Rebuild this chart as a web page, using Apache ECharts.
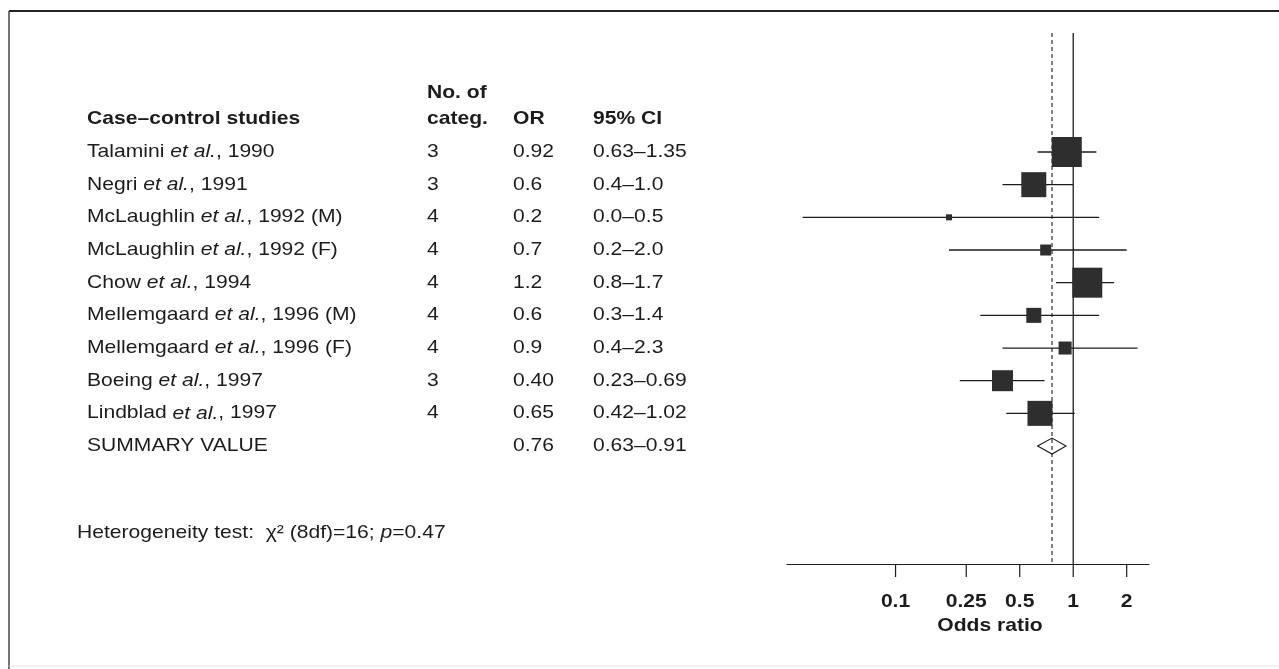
<!DOCTYPE html>
<html>
<head>
<meta charset="utf-8">
<script src="https://cdn.jsdelivr.net/npm/echarts@6/dist/echarts.min.js"></script>
<style>
  html, body { margin: 0; padding: 0; background: #ffffff; }
  #chart { width: 1279px; height: 669px; }
</style>
</head>
<body>
<div id="chart"></div>
<script>
// ---- Data: case–control studies of the pooled odds ratio ----
const authors = ['Talamini', 'Negri', 'McLaughlin', 'McLaughlin', 'Chow', 'Mellemgaard', 'Mellemgaard', 'Boeing', 'Lindblad'];
const years = ['1990', '1991', '1992 (M)', '1992 (F)', '1994', '1996 (M)', '1996 (F)', '1997', '1997'];
const categoryCounts = ['3', '3', '4', '4', '4', '4', '4', '3', '4'];
const orLabels = ['0.92', '0.6', '0.2', '0.7', '1.2', '0.6', '0.9', '0.40', '0.65'];
const ciLabels = ['0.63\u20131.35', '0.4\u20131.0', '0.0\u20130.5', '0.2\u20132.0', '0.8\u20131.7', '0.3\u20131.4', '0.4\u20132.3', '0.23\u20130.69', '0.42\u20131.02'];
const oddsRatios = [0.92, 0.6, 0.2, 0.7, 1.2, 0.6, 0.9, 0.40, 0.65];
const ciLower = [0.63, 0.4, 0.03, 0.2, 0.8, 0.3, 0.4, 0.23, 0.42];
const ciUpper = [1.35, 1.0, 1.4, 2.0, 1.7, 1.4, 2.3, 0.69, 1.02];
const studyWeights = [22.3, 15.5, 0.9, 3.0, 22.3, 5.6, 4.2, 10.9, 15.5]; // % weight, box area ∝ weight

const summaryName = 'SUMMARY VALUE';
const summaryOR = 0.76;
const summaryLower = 0.63;
const summaryUpper = 0.91;
const summaryORLabel = '0.76';
const summaryCILabel = '0.63\u20130.91';

const referenceOR = 1;
const tickValues = [0.1, 0.25, 0.5, 1, 2];
const tickLabels = ['0.1', '0.25', '0.5', '1', '2'];
const axisTitle = 'Odds ratio';
const headers = { study: 'Case\u2013control studies', categ1: 'No. of', categ2: 'categ.', or: 'OR', ci: '95% CI' };
const heterogeneityNote = 'Heterogeneity test:  \u03c7\u00b2 (8df)=16; {i|p}=0.47';

// ---- Layout and styles ----
const FONT = "'Liberation Sans', Arial, Helvetica, sans-serif";
const FS = 18.5;
const SX = 1.14;           // horizontal stretch of the printed typeface
const INK = '#1c1c1c';
const BOX = '#2e2e2e';
const Y_MIN = -3.643, Y_MAX = 12.611;   // row units: study i sits at y = i
const PLOT = { left: 787, top: 33, width: 362, height: 531 };
const X_MIN = 0.0245, X_MAX = 2.67;
const COL = { name: 87, categ: 427, or: 513, ci: 593 };
const MAX_BOX = 30;
const maxWeight = Math.max(...studyWeights);
const summaryRow = authors.length;

// ---- Table cells (left panel) ----
const tableCells = [];
function cell(x, row, text, bold) { tableCells.push({ x, row, text, bold }); }
cell(COL.name, -1, headers.study, true);
cell(COL.categ, -1.8, headers.categ1, true);
cell(COL.categ, -1, headers.categ2, true);
cell(COL.or, -1, headers.or, true);
cell(COL.ci, -1, headers.ci, true);
authors.forEach((a, i) => {
  cell(COL.name, i, a + ' {i|et al.}, ' + years[i], false);
  cell(COL.categ, i, categoryCounts[i], false);
  cell(COL.or, i, orLabels[i], false);
  cell(COL.ci, i, ciLabels[i], false);
});
cell(COL.name, summaryRow, summaryName, false);
cell(COL.or, summaryRow, summaryORLabel, false);
cell(COL.ci, summaryRow, summaryCILabel, false);

const richItalic = { i: { fontFamily: FONT, fontSize: FS, fontStyle: 'italic', fill: INK, color: INK } };

const chart = echarts.init(document.getElementById('chart'), null, { renderer: 'canvas' });

const option = {
  backgroundColor: '#ffffff',
  animation: false,
  grid: [
    { left: PLOT.left, top: PLOT.top, width: PLOT.width, height: PLOT.height },
    { left: 0, top: PLOT.top, width: 780, height: PLOT.height }
  ],
  xAxis: [
    {
      gridIndex: 0, type: 'log', logBase: 10, min: X_MIN, max: X_MAX,
      axisLine: { show: true, onZero: false, lineStyle: { color: INK, width: 1.2 } },
      axisTick: { show: false }, axisLabel: { show: false }, splitLine: { show: false }, minorTick: { show: false }
    },
    { gridIndex: 1, type: 'value', min: 0, max: 780, show: false }
  ],
  yAxis: [
    { gridIndex: 0, type: 'value', inverse: true, min: Y_MIN, max: Y_MAX, show: false },
    { gridIndex: 1, type: 'value', inverse: true, min: Y_MIN, max: Y_MAX, show: false }
  ],
  series: [
    // vertical reference lines: no effect (solid) and pooled estimate (dashed)
    {
      type: 'custom', xAxisIndex: 0, yAxisIndex: 0, z: 1, silent: true,
      data: [[referenceOR, 0], [summaryOR, 1]],
      renderItem(params, api) {
        const v = api.value(0);
        const a = api.coord([v, Y_MIN]);
        const b = api.coord([v, Y_MAX]);
        const dashed = api.value(1) === 1;
        return {
          type: 'line',
          shape: { x1: a[0], y1: a[1], x2: b[0], y2: b[1] },
          style: { stroke: INK, lineWidth: dashed ? 1.1 : 1.3, lineDash: dashed ? [4, 3] : null }
        };
      }
    },
    // study estimates with confidence intervals
    {
      type: 'custom', xAxisIndex: 0, yAxisIndex: 0, z: 3, silent: true,
      data: oddsRatios.map((v, i) => [v, i, ciLower[i], ciUpper[i], studyWeights[i]]),
      encode: { x: [0, 2, 3], y: 1 },
      renderItem(params, api) {
        const row = api.value(1);
        const c = api.coord([api.value(0), row]);
        const lo = api.coord([api.value(2), row]);
        const hi = api.coord([api.value(3), row]);
        const side = MAX_BOX * Math.sqrt(api.value(4) / maxWeight);
        return {
          type: 'group',
          children: [
            { type: 'line', shape: { x1: lo[0], y1: lo[1], x2: hi[0], y2: hi[1] }, style: { stroke: INK, lineWidth: 1.3 } },
            { type: 'rect', shape: { x: c[0] - side / 2, y: c[1] - side / 2, width: side, height: side }, style: { fill: BOX } }
          ]
        };
      }
    },
    // pooled summary diamond
    {
      type: 'custom', xAxisIndex: 0, yAxisIndex: 0, z: 2, silent: true,
      data: [[summaryOR, summaryRow, summaryLower, summaryUpper]],
      renderItem(params, api) {
        const row = api.value(1);
        const c = api.coord([api.value(0), row]);
        const lo = api.coord([api.value(2), row]);
        const hi = api.coord([api.value(3), row]);
        const h = 8;
        return {
          type: 'polygon',
          shape: { points: [[lo[0], c[1]], [c[0], c[1] - h], [hi[0], c[1]], [c[0], c[1] + h]] },
          style: { fill: 'rgba(255,255,255,0)', stroke: INK, lineWidth: 1.1 }
        };
      }
    },
    // axis ticks and labels at chosen odds ratios
    {
      type: 'custom', xAxisIndex: 0, yAxisIndex: 0, z: 3, silent: true, clip: false,
      data: tickValues.map((v, i) => [v, i]),
      renderItem(params, api) {
        const p = api.coord([api.value(0), Y_MAX]);
        return {
          type: 'group',
          children: [
            { type: 'line', shape: { x1: p[0], y1: p[1], x2: p[0], y2: p[1] + 13 }, style: { stroke: INK, lineWidth: 1.2 } },
            {
              type: 'text', x: p[0], y: p[1] + 38, scaleX: SX,
              style: { text: tickLabels[params.dataIndex], fontFamily: FONT, fontSize: FS, fontWeight: 'bold', fill: INK, align: 'center', verticalAlign: 'middle' }
            }
          ]
        };
      }
    },
    // table columns
    {
      type: 'custom', xAxisIndex: 1, yAxisIndex: 1, z: 3, silent: true, clip: false,
      data: tableCells.map((c, i) => [c.x, c.row, i]),
      renderItem(params, api) {
        const c = tableCells[params.dataIndex];
        const p = api.coord([api.value(0), api.value(1)]);
        return {
          type: 'text', x: p[0], y: p[1], scaleX: SX,
          style: {
            text: c.text, rich: richItalic,
            fontFamily: FONT, fontSize: FS, fontWeight: c.bold ? 'bold' : 'normal',
            fill: INK, align: 'left', verticalAlign: 'middle'
          }
        };
      }
    }
  ],
  graphic: [
    { type: 'line', shape: { x1: 9, y1: 11, x2: 1279, y2: 11 }, style: { stroke: '#222', lineWidth: 2 }, silent: true },
    { type: 'line', shape: { x1: 9, y1: 11, x2: 9, y2: 669 }, style: { stroke: '#444', lineWidth: 1.5 }, silent: true },
    { type: 'line', shape: { x1: 9, y1: 666, x2: 1279, y2: 666 }, style: { stroke: '#e2e2e2', lineWidth: 1 }, silent: true },
    {
      type: 'text', x: 77, y: 533, scaleX: SX, silent: true,
      style: { text: heterogeneityNote, rich: richItalic, fontFamily: FONT, fontSize: FS, fill: INK, align: 'left', verticalAlign: 'middle' }
    },
    {
      type: 'text', x: 990, y: 626, scaleX: SX, silent: true,
      style: { text: axisTitle, fontFamily: FONT, fontSize: FS, fontWeight: 'bold', fill: INK, align: 'center', verticalAlign: 'middle' }
    }
  ]
};

chart.setOption(option);
</script>
</body>
</html>
